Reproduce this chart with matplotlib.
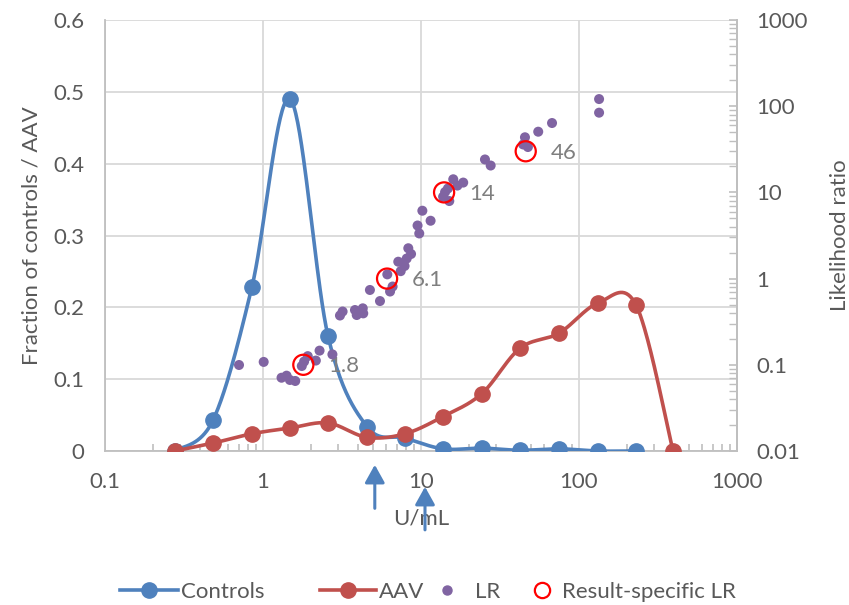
import numpy as np
import matplotlib
matplotlib.use('Agg')
import matplotlib.pyplot as plt
from matplotlib.ticker import FixedLocator, FixedFormatter, LogLocator, NullFormatter
from matplotlib.lines import Line2D

plt.rcParams['font.family'] = ['Lato', 'DejaVu Sans']

# ---------------- data ----------------
conc_bins = [0.277, 0.483, 0.852, 1.48, 2.58, 4.55, 7.92, 13.8, 24.3, 42.3, 74.7, 132, 230, 394]
controls = [0.0, 0.043, 0.229, 0.490, 0.160, 0.034, 0.018, 0.003, 0.004, 0.001, 0.003, 0.0, 0.0]
aav = [0.0, 0.011, 0.024, 0.032, 0.039, 0.019, 0.024, 0.048, 0.080, 0.143, 0.164, 0.206, 0.203, 0.0]

lr_x = [0.705, 1.01, 1.31, 1.41, 1.48, 1.60, 1.76, 1.82, 1.92, 2.16, 2.28, 2.75,
        3.07, 3.19, 3.82, 3.92, 4.28, 4.31, 4.75, 5.50, 6.12, 6.37, 6.61,
        7.18, 7.44, 7.87, 8.12, 8.31, 8.65, 9.51, 9.75, 10.2, 11.5,
        13.8, 14.2, 14.8, 15.1, 16.0, 17.0, 18.5, 25.4, 27.6,
        44.3, 45.5, 47.5, 55.2, 67.5, 134, 134]
lr_vals = [0.0995, 0.108, 0.0708, 0.0748, 0.0667, 0.0649, 0.0968, 0.109, 0.126, 0.112, 0.146, 0.132,
           0.373, 0.415, 0.432, 0.378, 0.452, 0.395, 0.738, 0.549, 1.12, 0.708, 0.809,
           1.57, 1.22, 1.40, 1.71, 2.25, 1.93, 4.13, 3.34, 6.13, 4.69,
           8.91, 10.1, 11.1, 7.94, 14.2, 12.0, 13.0, 24.1, 20.5,
           36.0, 43.6, 33.6, 50.6, 63.8, 121, 84.1]

rs_x = [1.8, 6.1, 14, 46]
rs_lr = [0.1, 1.0, 10, 30]
rs_labels = ['1.8', '6.1', '14', '46']

arrow_x = [5.1, 10.6]
arrow_y = [(-0.133, -0.032), (-0.183, -0.083)]  # axes-fraction (tail, head)

x_ticks = [0.1, 1, 10, 100, 1000]
x_ticklabels = ['0.1', '1', '10', '100', '1000']
y_ticks = [0, 0.1, 0.2, 0.3, 0.4, 0.5, 0.6]
y_ticklabels = ['0', '0.1', '0.2', '0.3', '0.4', '0.5', '0.6']
lr_ticks = [0.01, 0.1, 1, 10, 100, 1000]
lr_ticklabels = ['0.01', '0.1', '1', '10', '100', '1000']

# ---------------- style ----------------
BLUE = '#4F81BD'
RED = '#C0504D'
PURPLE = '#8064A2'
TXT = '#595959'
GRID = '#D9D9D9'
SPINE = '#BFBFBF'
FS = 16


def smooth(xs, ys, n=40):
    """Catmull-Rom spline in (log10 x, y) space, like Excel's smoothed line."""
    P = np.column_stack([np.log10(xs), np.asarray(ys, float)])
    Pe = np.vstack([P[0], P, P[-1]])
    t = np.linspace(0, 1, n)[:, None]
    h00 = 2 * t**3 - 3 * t**2 + 1
    h10 = t**3 - 2 * t**2 + t
    h01 = -2 * t**3 + 3 * t**2
    h11 = t**3 - t**2
    pts = []
    for i in range(len(P) - 1):
        p0, p1, p2, p3 = Pe[i], Pe[i + 1], Pe[i + 2], Pe[i + 3]
        m1 = (p2 - p0) / 2
        m2 = (p3 - p1) / 2
        seg = h00 * p1 + h10 * m1 + h01 * p2 + h11 * m2
        pts.append(seg if i == 0 else seg[1:])
    pts = np.vstack(pts)
    return 10 ** pts[:, 0], pts[:, 1]


fig = plt.figure(figsize=(8.49, 6.05), dpi=100)
ax = fig.add_axes([105 / 849, 1 - 451 / 605, (737 - 105) / 849, (451 - 20) / 605])

ax.set_xscale('log')
ax.set_xlim(0.1, 1000)
ax.set_ylim(0, 0.6)

ax.set_axisbelow(True)
ax.xaxis.set_major_locator(FixedLocator(x_ticks))
ax.xaxis.set_major_formatter(FixedFormatter(x_ticklabels))
ax.xaxis.set_minor_locator(LogLocator(base=10, subs=np.arange(2, 10), numticks=20))
ax.xaxis.set_minor_formatter(NullFormatter())
ax.set_yticks(y_ticks)
ax.set_yticklabels(y_ticklabels)
ax.grid(True, which='major', color=GRID, lw=1.3)

ax.spines['top'].set_visible(False)
for s in ['left', 'bottom', 'right']:
    ax.spines[s].set_color(SPINE)
    ax.spines[s].set_linewidth(1.3)

ax.tick_params(axis='x', which='major', direction='in', length=0, pad=15, labelsize=FS, labelcolor=TXT)
ax.tick_params(axis='x', which='minor', direction='in', length=5, color=SPINE, width=1.2)
ax.tick_params(axis='y', which='major', length=0, pad=15, labelsize=FS, labelcolor=TXT)

# series
sx, sy = smooth(conc_bins[:len(controls)], controls)
ax.plot(sx, sy, color=BLUE, lw=2.6, solid_capstyle='round', zorder=3)
ax.plot(conc_bins[:len(controls)], controls, 'o', color=BLUE, ms=11, zorder=3)

sx, sy = smooth(conc_bins, aav)
ax.plot(sx, sy, color=RED, lw=2.6, solid_capstyle='round', zorder=4)
ax.plot(conc_bins, aav, 'o', color=RED, ms=11, zorder=4)

ax.set_ylabel('Fraction of controls / AAV', fontsize=FS, color=TXT, labelpad=8)
ax.set_xlabel('U/mL', fontsize=FS, color=TXT, labelpad=12)

# secondary axis
ax2 = ax.twinx()
ax2.set_yscale('log')
ax2.set_ylim(0.01, 1000)
ax2.yaxis.set_major_locator(FixedLocator(lr_ticks))
ax2.yaxis.set_major_formatter(FixedFormatter(lr_ticklabels))
ax2.yaxis.set_minor_locator(LogLocator(base=10, subs=np.arange(2, 10), numticks=20))
ax2.yaxis.set_minor_formatter(NullFormatter())
ax2.tick_params(axis='y', which='major', direction='in', length=6, color=SPINE, width=1.2,
                pad=14, labelsize=FS, labelcolor=TXT)
ax2.tick_params(axis='y', which='minor', direction='in', length=6, color=SPINE, width=1.0)
for s in ['top', 'left', 'bottom']:
    ax2.spines[s].set_visible(False)
ax2.spines['right'].set_color(SPINE)
ax2.spines['right'].set_linewidth(1.3)
ax2.set_ylabel('Likelihood ratio', fontsize=FS, color=TXT, labelpad=16)

ax2.scatter(lr_x, lr_vals, s=52, color=PURPLE, edgecolors='none', zorder=5)
ax2.scatter(rs_x, rs_lr, s=210, facecolors='none', edgecolors='#FF0000', linewidths=1.6, zorder=6)
for x, v, lab in zip(rs_x, rs_lr, rs_labels):
    ax2.annotate(lab, (x, v), xytext=(18, -1), textcoords='offset points',
                 ha='left', va='center', fontsize=FS, color='#7F7F7F')

# arrows below axis
for xa, (y0, y1) in zip(arrow_x, arrow_y):
    ax.annotate('', xy=(xa, y1), xytext=(xa, y0), xycoords=ax.get_xaxis_transform(),
                textcoords=ax.get_xaxis_transform(),
                arrowprops=dict(arrowstyle='-|>,head_length=0.9,head_width=0.5', mutation_scale=12,
                                color=BLUE, lw=2.2, shrinkA=0, shrinkB=0),
                annotation_clip=False, zorder=10)

# legend (four entries placed along the bottom)
entries = [
    (Line2D([], [], color=BLUE, lw=2.6, marker='o', ms=11), 'Controls', 120, 2.6, 0.15),
    (Line2D([], [], color=RED, lw=2.6, marker='o', ms=11), 'AAV', 320, 2.5, 0.15),
    (Line2D([], [], ls='none', marker='o', color=PURPLE, ms=6.5), 'LR', 426, 1.9, 0.3),
    (Line2D([], [], ls='none', marker='o', mfc='none', mec='#FF0000', mew=1.6, ms=11), 'Result-specific LR', 531, 1.0, 0.4),
]
for h, lab, xpx, hl, tp in entries:
    fig.legend([h], [lab], loc='center left', bbox_to_anchor=(xpx / 849, 1 - 592 / 605),
               frameon=False, fontsize=FS, handlelength=hl, handletextpad=tp,
               borderpad=0, borderaxespad=0, labelcolor=TXT)

fig.savefig('out.png', dpi=100)
